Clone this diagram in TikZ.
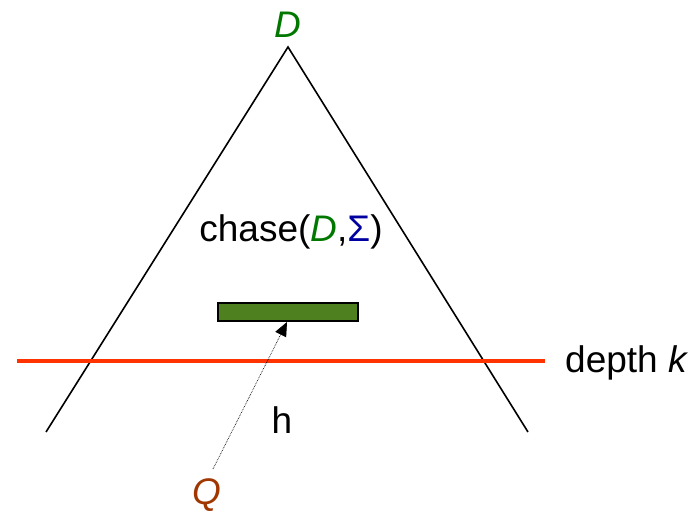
\documentclass[tikz,border=0pt]{standalone}
\usepackage{fontspec}
\setmainfont{Liberation Sans}
\usetikzlibrary{arrows.meta}
\definecolor{dgreen}{RGB}{0,120,0}
\definecolor{sblue}{RGB}{0,0,160}
\definecolor{qbrown}{RGB}{160,55,0}
\definecolor{boxgreen}{RGB}{78,128,32}
\definecolor{dred}{RGB}{255,51,0}
\tikzset{
  lbl/.style={inner sep=0pt, font=\fontsize{37}{44}\selectfont},
  side/.style={line width=1.6pt, black},
}
\begin{document}
\begin{tikzpicture}[x=1pt,y=-1pt]
\useasboundingbox (0,0) rectangle (693,512);
\coordinate (apex) at (288,47);
\coordinate (bl) at (46,432);
\coordinate (br) at (528,432);
\draw[side] (bl) -- (apex) -- (br);
\coordinate (rl) at (17,361);
\coordinate (rr) at (545,361);
\draw[dred, line width=4.5pt] (rl) -- (rr);
\node[draw=black, line width=1.6pt, fill=boxgreen, minimum width=140pt, minimum height=18pt, inner sep=0pt] (hbox) at (288,312) {};
\node[lbl, text=dgreen] (D) at (288,25) {\textit{D}};
\node[lbl] (chase) at (291,232) {chase(\textcolor{dgreen}{\textit{D}},\textcolor{sblue}{Σ})};
\node[lbl] (h) at (282,420) {h};
\node[lbl, text=qbrown] (Q) at (207,495) {\textit{Q}};
\node[lbl, anchor=west] (depth) at (565,363) {depth \textit{k}};
\coordinate (qs) at (213,469);
\coordinate (tip) at (287,322);
\draw[densely dotted, line width=0.7pt, -{Triangle[length=14pt,width=12pt]}] (qs) -- (tip);
\end{tikzpicture}
\end{document}
